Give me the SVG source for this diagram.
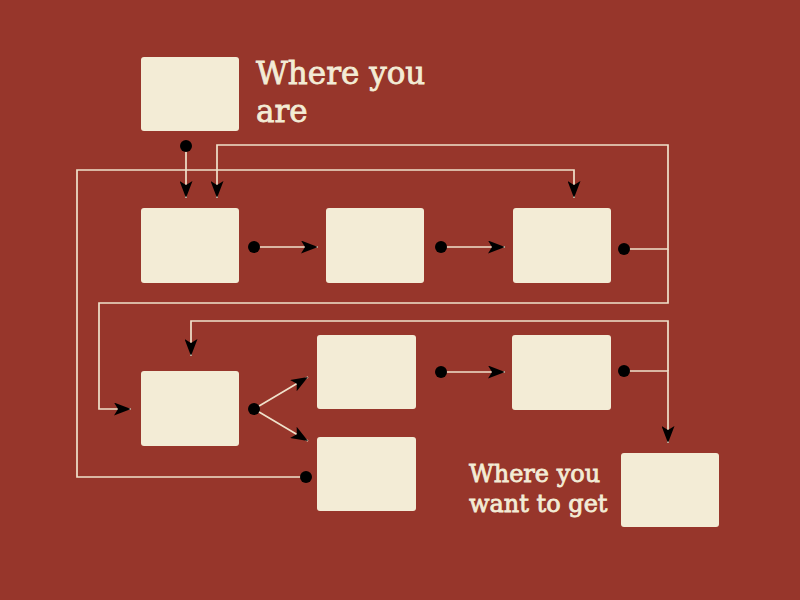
<svg xmlns="http://www.w3.org/2000/svg" width="800" height="600" viewBox="0 0 800 600">
<style>
.box{fill:#F3ECD6;}
.ln{fill:none;stroke:#F0E2CC;stroke-width:1.7;}
.dot{fill:#000;}
.lbl{fill:#F3ECD6;stroke:#F3ECD6;stroke-width:0.8;font-family:"DejaVu Serif",serif;}
</style>
<defs>
<marker id="ah" viewBox="0 0 17 13" markerWidth="17" markerHeight="13" refX="17" refY="6.5" orient="auto" markerUnits="userSpaceOnUse">
<path d="M0,0 L17,6.5 L0,13 L4,6.5 z" fill="#000"/>
</marker>
</defs>
<rect width="800" height="600" fill="#97362B"/>
<g id="connectors">
<path class="ln" d="M186,146 V198" marker-end="url(#ah)"/>
<path class="ln" d="M624,249 H668 V145 H217 V198" marker-end="url(#ah)"/>
<path class="ln" d="M668,249 V303 H99 V409 H131" marker-end="url(#ah)"/>
<path class="ln" d="M306,477 H77 V170 H574 V198" marker-end="url(#ah)"/>
<path class="ln" d="M254,247 H318" marker-end="url(#ah)"/>
<path class="ln" d="M441,247 H505" marker-end="url(#ah)"/>
<path class="ln" d="M254,409 L308,377" marker-end="url(#ah)"/>
<path class="ln" d="M254,409 L308,441" marker-end="url(#ah)"/>
<path class="ln" d="M441,372 H505" marker-end="url(#ah)"/>
<path class="ln" d="M624,371 H668 V443" marker-end="url(#ah)"/>
<path class="ln" d="M668,371 V321 H191 V356" marker-end="url(#ah)"/>
<circle class="dot" cx="186" cy="146" r="6"/>
<circle class="dot" cx="624" cy="249" r="6"/>
<circle class="dot" cx="306" cy="477" r="6"/>
<circle class="dot" cx="254" cy="247" r="6"/>
<circle class="dot" cx="441" cy="247" r="6"/>
<circle class="dot" cx="254" cy="409" r="6"/>
<circle class="dot" cx="441" cy="372" r="6"/>
<circle class="dot" cx="624" cy="371" r="6"/>
</g>
<g id="start"><rect class="box" x="141" y="57" width="98" height="74" rx="3"/></g>
<g id="a"><rect class="box" x="141" y="208" width="98" height="75" rx="3"/></g>
<g id="b"><rect class="box" x="326" y="208" width="98" height="75" rx="3"/></g>
<g id="c"><rect class="box" x="513" y="208" width="98" height="75" rx="3"/></g>
<g id="d"><rect class="box" x="141" y="371" width="98" height="75" rx="3"/></g>
<g id="e"><rect class="box" x="317" y="335" width="99" height="74" rx="3"/></g>
<g id="f"><rect class="box" x="317" y="437" width="99" height="74" rx="3"/></g>
<g id="g"><rect class="box" x="512" y="335" width="99" height="75" rx="3"/></g>
<g id="end"><rect class="box" x="621" y="453" width="98" height="74" rx="3"/></g>
<g id="label-start">
<text class="lbl" x="256" y="84" font-size="31">Where you</text>
<text class="lbl" x="256" y="122" font-size="31">are</text>
</g>
<g id="label-end">
<text class="lbl" x="469" y="482" font-size="24">Where you</text>
<text class="lbl" x="469" y="512" font-size="24">want to get</text>
</g>
</svg>
